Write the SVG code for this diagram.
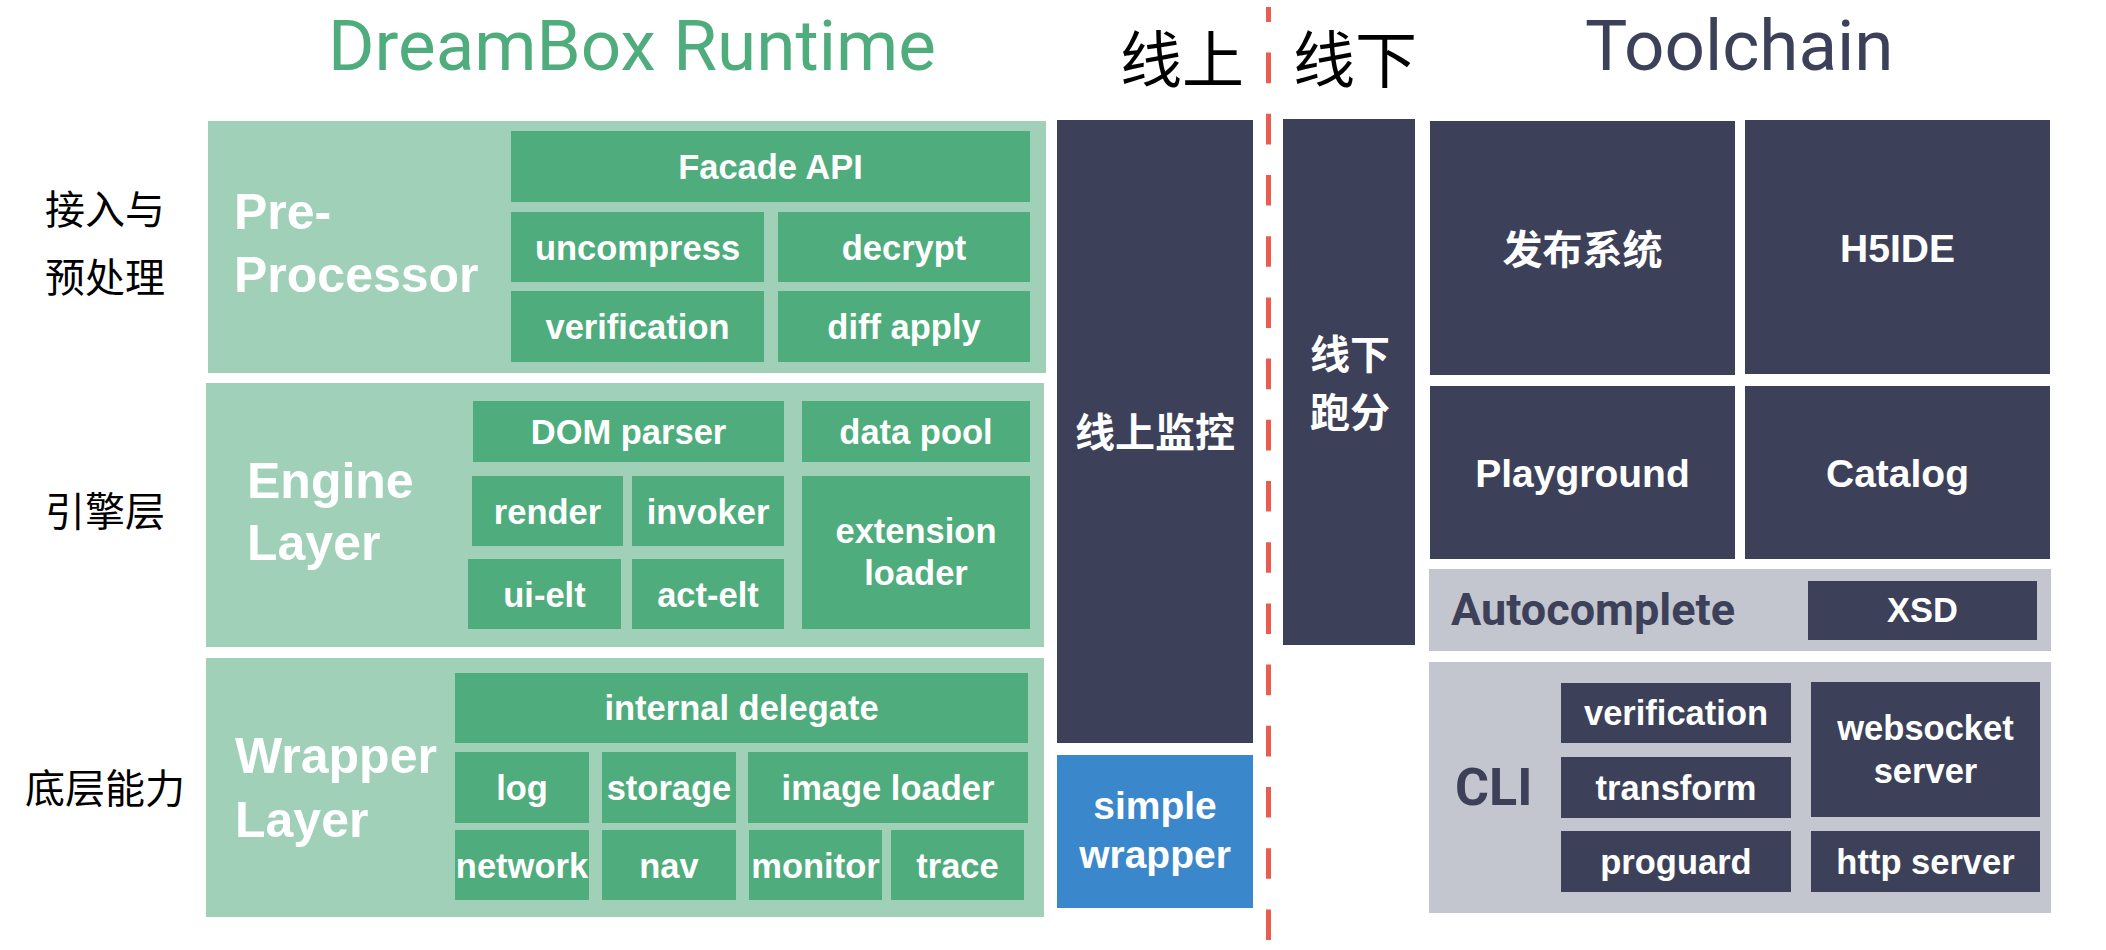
<svg xmlns="http://www.w3.org/2000/svg" width="2106" height="950" viewBox="0 0 2106 950">
<style>
.panel{fill:#a0d1b8}
.gbox{fill:#4fac7d}
.nbox{fill:#3c4159}
.gray{fill:#c3c6ce}
.blue{fill:#3a87cb}
.bt{font-family:"Liberation Sans",Arial,sans-serif;font-weight:bold;font-size:34.5px;fill:#fff;text-anchor:middle}
.pt{font-family:"Liberation Sans",Arial,sans-serif;font-weight:bold;font-size:50px;fill:#fff}
.side{font-family:"Noto Sans CJK SC","Noto Sans",sans-serif;font-size:40px;fill:#000;text-anchor:middle}
.cjkb{font-family:"Noto Sans CJK SC","Noto Sans",sans-serif;font-weight:bold;font-size:40px;fill:#fff;text-anchor:middle}
.head{font-family:"Noto Sans CJK SC","Noto Sans",sans-serif;font-size:62px;fill:#000}
.title{font-family:Roboto,"Liberation Sans",sans-serif;font-size:71px}
.rb{font-family:Roboto,"Liberation Sans",sans-serif;font-weight:bold;fill:#3c4159}
</style>

<g id="titles">
<text class="title" x="328" y="70" fill="#4fac7c">DreamBox Runtime</text>
<text class="title" x="1585" y="70" fill="#3c4159">Toolchain</text>
<text class="head" x="1120" y="83">线上</text>
<text class="head" x="1293" y="83">线下</text>
</g>

<g id="side-labels">
<text class="side" x="105" y="224">接入与</text>
<text class="side" x="105" y="292">预处理</text>
<text class="side" x="105" y="526">引擎层</text>
<text class="side" x="105" y="803">底层能力</text>
</g>

<g id="pre-processor">
<rect class="panel" x="208" y="121" width="838" height="252"/>
<text class="pt" x="234" y="229">Pre-</text>
<text class="pt" x="234" y="292">Processor</text>
</g>
<g id="facade-api"><rect class="gbox" x="511" y="131" width="519" height="71"/><text class="bt" x="770.5" y="179">Facade API</text></g>
<g id="uncompress"><rect class="gbox" x="511" y="212" width="253" height="70"/><text class="bt" x="637.5" y="259.5">uncompress</text></g>
<g id="decrypt"><rect class="gbox" x="778" y="212" width="252" height="70"/><text class="bt" x="904" y="259.5">decrypt</text></g>
<g id="verification-pre"><rect class="gbox" x="511" y="291" width="253" height="71"/><text class="bt" x="637.5" y="339">verification</text></g>
<g id="diff-apply"><rect class="gbox" x="778" y="291" width="252" height="71"/><text class="bt" x="904" y="339">diff apply</text></g>

<g id="engine-layer">
<rect class="panel" x="206" y="383" width="838" height="264"/>
<text class="pt" x="247" y="498">Engine</text>
<text class="pt" x="247" y="560">Layer</text>
</g>
<g id="dom-parser"><rect class="gbox" x="473" y="401" width="311" height="61"/><text class="bt" x="628.5" y="443.5">DOM parser</text></g>
<g id="data-pool"><rect class="gbox" x="802" y="401" width="228" height="61"/><text class="bt" x="916" y="443.5">data pool</text></g>
<g id="render"><rect class="gbox" x="472" y="476" width="151" height="70"/><text class="bt" x="547.5" y="523.5">render</text></g>
<g id="invoker"><rect class="gbox" x="632" y="476" width="152" height="70"/><text class="bt" x="708" y="523.5">invoker</text></g>
<g id="ui-elt"><rect class="gbox" x="468" y="559" width="153" height="70"/><text class="bt" x="544.5" y="606.5">ui-elt</text></g>
<g id="act-elt"><rect class="gbox" x="632" y="559" width="152" height="70"/><text class="bt" x="708" y="606.5">act-elt</text></g>
<g id="extension-loader"><rect class="gbox" x="802" y="476" width="228" height="153"/><text class="bt" x="916" y="543">extension</text><text class="bt" x="916" y="585">loader</text></g>

<g id="wrapper-layer">
<rect class="panel" x="206" y="658" width="838" height="259"/>
<text class="pt" x="235" y="773">Wrapper</text>
<text class="pt" x="235" y="837">Layer</text>
</g>
<g id="internal-delegate"><rect class="gbox" x="455" y="673" width="573" height="70"/><text class="bt" x="741.5" y="720">internal delegate</text></g>
<g id="log"><rect class="gbox" x="455" y="752" width="134" height="71"/><text class="bt" x="522" y="800">log</text></g>
<g id="storage"><rect class="gbox" x="602" y="752" width="134" height="71"/><text class="bt" x="669" y="800">storage</text></g>
<g id="image-loader"><rect class="gbox" x="748" y="752" width="280" height="71"/><text class="bt" x="888" y="800">image loader</text></g>
<g id="network"><rect class="gbox" x="455" y="830" width="134" height="70"/><text class="bt" x="522" y="877.5">network</text></g>
<g id="nav"><rect class="gbox" x="602" y="830" width="134" height="70"/><text class="bt" x="669" y="877.5">nav</text></g>
<g id="monitor"><rect class="gbox" x="749" y="830" width="133" height="70"/><text class="bt" x="815.5" y="877.5">monitor</text></g>
<g id="trace"><rect class="gbox" x="891" y="830" width="133" height="70"/><text class="bt" x="957.5" y="877.5">trace</text></g>

<g id="online-monitor"><rect class="nbox" x="1057" y="120" width="196" height="623"/><text class="cjkb" x="1155" y="447">线上监控</text></g>
<g id="simple-wrapper"><rect class="blue" x="1057" y="755" width="196" height="153"/><text class="bt" x="1155" y="819" style="font-size:39px">simple</text><text class="bt" x="1155" y="868" style="font-size:39px">wrapper</text></g>

<g id="divider"><line x1="1268.5" y1="7" x2="1268.5" y2="950" stroke="#e85d50" stroke-width="5" stroke-dasharray="30.6 30.6" stroke-dashoffset="15.6"/></g>

<g id="offline-bench"><rect class="nbox" x="1283" y="119" width="132" height="526"/><text class="cjkb" x="1350" y="369">线下</text><text class="cjkb" x="1350" y="427">跑分</text></g>

<g id="release-system"><rect class="nbox" x="1430" y="121" width="305" height="254"/><text class="cjkb" x="1582.5" y="264">发布系统</text></g>
<g id="h5ide"><rect class="nbox" x="1745" y="120" width="305" height="254"/><text class="bt" x="1897.5" y="262" style="font-size:39px">H5IDE</text></g>
<g id="playground"><rect class="nbox" x="1430" y="386" width="305" height="173"/><text class="bt" x="1582.5" y="487" style="font-size:39px">Playground</text></g>
<g id="catalog"><rect class="nbox" x="1745" y="386" width="305" height="173"/><text class="bt" x="1897.5" y="487" style="font-size:39px">Catalog</text></g>

<g id="autocomplete">
<rect class="gray" x="1429" y="569" width="622" height="82"/>
<text class="rb" x="1451" y="625" style="font-size:45px">Autocomplete</text>
</g>
<g id="xsd"><rect class="nbox" x="1808" y="581" width="229" height="59"/><text class="bt" x="1922.5" y="622">XSD</text></g>

<g id="cli">
<rect class="gray" x="1429" y="662" width="622" height="251"/>
<text class="rb" x="1455" y="805" style="font-size:52px">CLI</text>
</g>
<g id="verification-cli"><rect class="nbox" x="1561" y="683" width="230" height="60"/><text class="bt" x="1676" y="725">verification</text></g>
<g id="transform"><rect class="nbox" x="1561" y="757" width="230" height="61"/><text class="bt" x="1676" y="800">transform</text></g>
<g id="proguard"><rect class="nbox" x="1561" y="831" width="230" height="61"/><text class="bt" x="1676" y="873.5">proguard</text></g>
<g id="websocket-server"><rect class="nbox" x="1811" y="682" width="229" height="135"/><text class="bt" x="1925.5" y="740">websocket</text><text class="bt" x="1925.5" y="783">server</text></g>
<g id="http-server"><rect class="nbox" x="1811" y="831" width="229" height="61"/><text class="bt" x="1925.5" y="873.5">http server</text></g>
<g id="connectors"/>
</svg>
